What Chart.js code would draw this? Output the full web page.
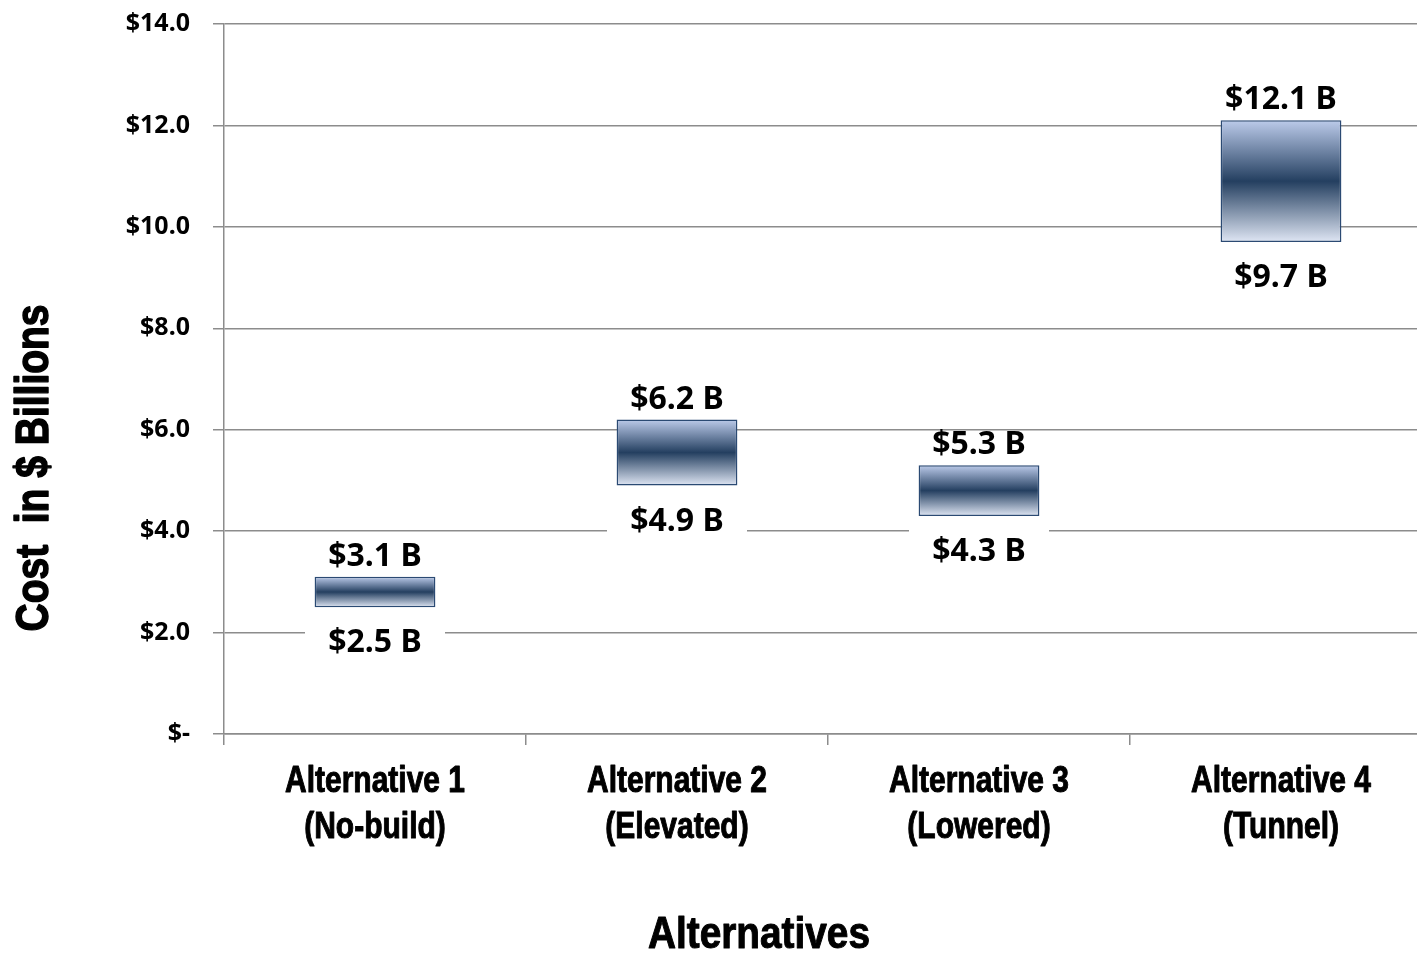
<!DOCTYPE html>
<html>
<head>
<meta charset="utf-8">
<script src="https://cdn.jsdelivr.net/npm/chart.js@4.4.1/dist/chart.umd.min.js"></script>
<style>
  html, body { margin:0; padding:0; background:#fff; overflow:hidden; }
  #wrap { width:1440px; height:955px; position:relative; }
</style>
</head>
<body>
<div id="wrap"><canvas id="myChart"></canvas></div>
<script>
// 데이터
const categories = [
	['Alternative 1', '(No-build)'],
	['Alternative 2', '(Elevated)'],
	['Alternative 3', '(Lowered)'],
	['Alternative 4', '(Tunnel)']
];
const lowCost = [2.5, 4.9, 4.3, 9.7];
const highCost = [3.1, 6.2, 5.3, 12.1];
const yMin = 0, yMax = 14, yStep = 2;
const yTitle = 'Cost  in $ Billions';
const xTitle = 'Alternatives';

const GRID = '#8c8c8c';
const BOLD_SANS = "'Liberation Sans'";

function money(v){
	return v === 0 ? '$-' : '$' + v.toFixed(1);
}

// 막대 그라데이션
function barFill(c){
	const chart = c.chart;
	if (!chart.chartArea) return '#243f60';
	const y = chart.scales.y;
	const i = c.dataIndex;
	const top = y.getPixelForValue(highCost[i]);
	const bot = y.getPixelForValue(lowCost[i]);
	const g = chart.ctx.createLinearGradient(0, top, 0, bot);
	g.addColorStop(0, '#bccbea');
	g.addColorStop(0.5, '#243f60');
	g.addColorStop(1, '#dfe6f4');
	return g;
}

// 글자를 가로로 눌러서 그리기 (narrow 폰트 대신)
function squeezeText(ctx, text, x, y, font, k, rot, heavy){
	ctx.save();
	ctx.font = font;
	ctx.translate(x, y);
	if (rot) ctx.rotate(rot);
	ctx.scale(k, 1);
	ctx.textAlign = 'center';
	ctx.textBaseline = 'middle';
	ctx.fillStyle = '#000';
	ctx.fillText(text, 0, 0);
	if (heavy) {
		ctx.strokeStyle = '#000';
		ctx.lineWidth = heavy;
		ctx.lineJoin = 'round';
		ctx.strokeText(text, 0, 0);
	}
	ctx.restore();
}

function fitScale(ctx, text, font, width){
	ctx.save();
	ctx.font = font;
	const w = ctx.measureText(text).width;
	ctx.restore();
	return width / w;
}

const rangeLabels = {
	id: 'rangeLabels',
	afterDatasetsDraw(chart){
		const ctx = chart.ctx;
		const y = chart.scales.y;
		const meta = chart.getDatasetMeta(0);
		ctx.save();
		ctx.font = "bold 32px 'Noto Sans'";
		ctx.textAlign = 'center';
		ctx.textBaseline = 'middle';
		meta.data.forEach(function(bar, i){
			const top = y.getPixelForValue(highCost[i]);
			const bot = y.getPixelForValue(lowCost[i]);
			ctx.fillStyle = '#000';
			ctx.fillText('$' + highCost[i].toFixed(1) + ' B', bar.x, top - 20);
			ctx.fillStyle = '#fff';
			ctx.fillRect(bar.x - 70, bot + 12, 140, 40);
			ctx.fillStyle = '#000';
			ctx.fillText('$' + lowCost[i].toFixed(1) + ' B', bar.x, bot + 36);
		});
		ctx.restore();
	},
	afterDraw(chart){
		const ctx = chart.ctx;
		const x = chart.scales.x;
		const catFont = 'bold 36px ' + BOLD_SANS;
		const k = fitScale(ctx, categories[0][0], catFont, 180);
		categories.forEach(function(lines, i){
			const cx = x.getPixelForTick(i);
			lines.forEach(function(t, j){
				squeezeText(ctx, t, cx, 782 + j * 46, catFont, k, 0, 1);
			});
		});
		let f = 'bold 46px ' + BOLD_SANS;
		squeezeText(ctx, yTitle, 35, 468, f, fitScale(ctx, yTitle, f, 327), -Math.PI / 2, 1.5);
		f = 'bold 44px ' + BOLD_SANS;
		squeezeText(ctx, xTitle, 759, 936, f, fitScale(ctx, xTitle, f, 222), 0, 1);
	}
};

const ctx = document.getElementById('myChart');
new Chart(ctx, {
	type: 'bar',
	data: {
		labels: categories,
		datasets: [{
			label: 'Cost',
			data: lowCost.map((v, i) => [v, highCost[i]]),
			backgroundColor: barFill,
			borderColor: '#2b4a73',
			borderWidth: 1.5,
			borderSkipped: false,
			barPercentage: 0.4,
			categoryPercentage: 1
		}]
	},
	options: {
		responsive: true,
		maintainAspectRatio: false,
		animation: false,
		layout: { padding: { left: 0, right: 8, top: 24, bottom: 0 } },
		plugins: {
			legend: { display: false },
			tooltip: { enabled: false }
		},
		scales: {
			x: {
				offset: true,
				grid: { display: true, drawOnChartArea: false, offset: true, tickLength: 11, color: GRID, lineWidth: 1.5 },
				border: { display: true, color: GRID, width: 1.5 },
				ticks: {
					color: 'rgba(0,0,0,0)',
					padding: 13,
					maxRotation: 0,
					autoSkip: false,
					font: { family: BOLD_SANS, size: 30, weight: 'bold' }
				},
				afterFit: function(scale){
					scale.height = 221;
					scale.paddingLeft = 0;
					scale.paddingRight = 0;
				}
			},
			y: {
				min: yMin,
				max: yMax,
				grid: { color: GRID, lineWidth: 1.5, tickLength: 11 },
				border: { display: true, color: GRID, width: 1.5 },
				ticks: {
					stepSize: yStep,
					color: '#000',
					padding: 23,
					font: { family: "'Noto Sans'", size: 25, weight: 'bold' },
					callback: function(v){ return money(v); }
				},
				afterFit: function(scale){
					scale.width = 224;
					scale.paddingTop = 0;
					scale.paddingBottom = 0;
				}
			}
		}
	},
	plugins: [rangeLabels]
});
</script>
</body>
</html>
